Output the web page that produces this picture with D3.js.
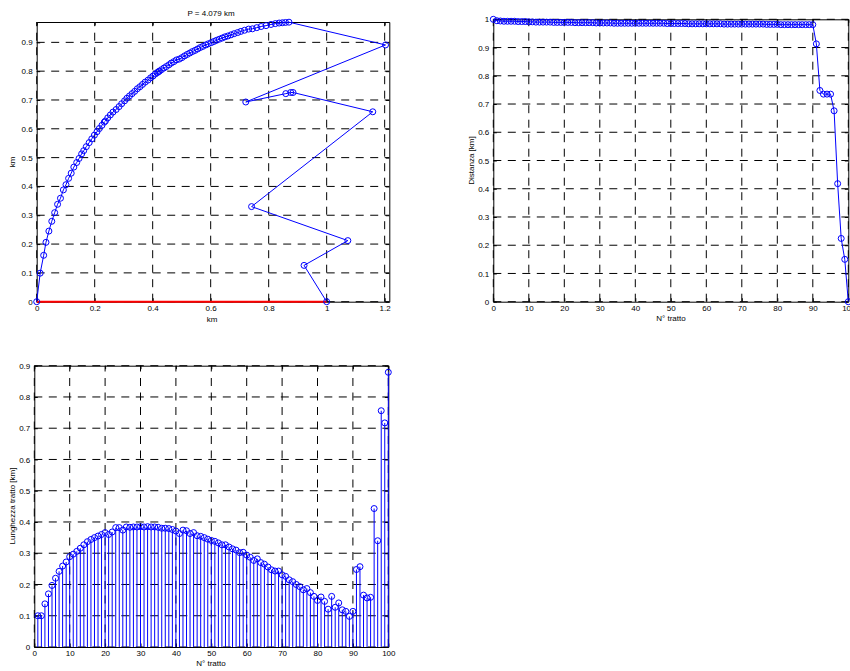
<!DOCTYPE html>
<html>
<head>
<meta charset="utf-8">
<script src="https://cdn.jsdelivr.net/npm/d3@7"></script>
<style>
  body { margin: 0; background: #fff; }
  svg { display: block; }
</style>
</head>
<body>
<svg id="chart" width="850" height="671"></svg>
<script>
// percorso (km), punti 0..100
const pathX = [
  0, 0.012, 0.024, 0.032, 0.042, 0.052, 0.062, 0.072, 0.082, 0.092,
  0.101, 0.110, 0.119, 0.128, 0.138, 0.146, 0.155, 0.162, 0.171, 0.181,
  0.190, 0.199, 0.208, 0.216, 0.225, 0.233, 0.237, 0.245, 0.254, 0.263,
  0.274, 0.284, 0.293, 0.303, 0.311, 0.320, 0.329, 0.338, 0.347, 0.356,
  0.365, 0.374, 0.384, 0.393, 0.401, 0.409, 0.416, 0.420, 0.423, 0.430,
  0.439, 0.447, 0.456, 0.464, 0.473, 0.482, 0.492, 0.501, 0.510, 0.519,
  0.528, 0.537, 0.546, 0.555, 0.564, 0.573, 0.583, 0.592, 0.602, 0.611,
  0.620, 0.630, 0.640, 0.649, 0.659, 0.670, 0.681, 0.693, 0.704, 0.717,
  0.731, 0.744, 0.759, 0.774, 0.791, 0.808, 0.823, 0.836, 0.847, 0.858,
  0.870, 1.203, 0.721, 0.859, 0.876, 0.884, 1.159, 0.741, 1.073, 0.922,
  1.000
];
const pathY = [
  0, 0.099, 0.161, 0.206, 0.245, 0.279, 0.309, 0.338, 0.359, 0.388,
  0.406, 0.428, 0.446, 0.467, 0.483, 0.497, 0.513, 0.524, 0.538, 0.552,
  0.565, 0.578, 0.590, 0.601, 0.612, 0.623, 0.627, 0.638, 0.648, 0.658,
  0.667, 0.677, 0.687, 0.697, 0.706, 0.714, 0.722, 0.730, 0.739, 0.746,
  0.754, 0.762, 0.769, 0.777, 0.783, 0.790, 0.795, 0.798, 0.800, 0.805,
  0.811, 0.816, 0.822, 0.828, 0.833, 0.839, 0.842, 0.847, 0.853, 0.858,
  0.863, 0.868, 0.872, 0.877, 0.882, 0.886, 0.891, 0.895, 0.899, 0.903,
  0.907, 0.911, 0.915, 0.919, 0.922, 0.926, 0.930, 0.934, 0.938, 0.942,
  0.946, 0.947, 0.951, 0.955, 0.958, 0.962, 0.965, 0.967, 0.968, 0.969,
  0.970, 0.891, 0.693, 0.722, 0.726, 0.726, 0.659, 0.330, 0.212, 0.126,
  0
];
// segmento rosso
const segX = [0, 1];
const segY = [0, 0];

// distanza dal punto (1,0), tratti 0..100
const distanza = [
  1.000,
  0.995, 0.994, 0.993, 0.993, 0.993, 0.993, 0.992, 0.992, 0.992,
  0.991, 0.991, 0.990, 0.990, 0.990, 0.990, 0.990, 0.989, 0.989, 0.989,
  0.989, 0.989, 0.989, 0.988, 0.988, 0.988, 0.988, 0.988, 0.988, 0.987,
  0.987, 0.987, 0.987, 0.987, 0.986, 0.986, 0.986, 0.986, 0.986, 0.986,
  0.986, 0.986, 0.986, 0.986, 0.986, 0.986, 0.986, 0.986, 0.986, 0.985,
  0.985, 0.985, 0.985, 0.985, 0.985, 0.984, 0.984, 0.984, 0.984, 0.984,
  0.984, 0.984, 0.984, 0.984, 0.984, 0.983, 0.983, 0.983, 0.983, 0.983,
  0.983, 0.983, 0.983, 0.983, 0.983, 0.983, 0.983, 0.982, 0.982, 0.982,
  0.982, 0.981, 0.981, 0.981, 0.981, 0.981, 0.981, 0.981, 0.981, 0.981, 0.981,
  0.913, 0.748, 0.735, 0.735, 0.735, 0.676, 0.418, 0.224, 0.150, 0.000
];

// lunghezza di ogni tratto, tratti 1..100
const lunghezza = [
  0.100, 0.100, 0.138, 0.170, 0.197, 0.220, 0.242, 0.259, 0.272, 0.289,
  0.297, 0.306, 0.316, 0.327, 0.337, 0.344, 0.350, 0.355, 0.360, 0.366,
  0.360, 0.368, 0.382, 0.382, 0.374, 0.384, 0.383, 0.384, 0.384, 0.385,
  0.384, 0.385, 0.384, 0.384, 0.383, 0.380, 0.380, 0.379, 0.376, 0.371,
  0.363, 0.374, 0.372, 0.363, 0.366, 0.356, 0.354, 0.350, 0.345, 0.341,
  0.338, 0.333, 0.327, 0.327, 0.320, 0.314, 0.310, 0.302, 0.303, 0.294,
  0.287, 0.277, 0.282, 0.270, 0.265, 0.256, 0.247, 0.243, 0.243, 0.231,
  0.226, 0.215, 0.209, 0.200, 0.193, 0.183, 0.187, 0.174, 0.162, 0.149,
  0.160, 0.146, 0.121, 0.162, 0.127, 0.141, 0.119, 0.114, 0.098, 0.114,
  0.248, 0.257, 0.166, 0.157, 0.159, 0.443, 0.340, 0.756, 0.717, 0.879
];

const kmTicksX = [0, 0.2, 0.4, 0.6, 0.8, 1, 1.2];
const kmTicksY = [0, 0.1, 0.2, 0.3, 0.4, 0.5, 0.6, 0.7, 0.8, 0.9];
const trattoTicks = [0, 10, 20, 30, 40, 50, 60, 70, 80, 90, 100];
const distTicks = [0, 0.1, 0.2, 0.3, 0.4, 0.5, 0.6, 0.7, 0.8, 0.9, 1];
const lungTicks = [0, 0.1, 0.2, 0.3, 0.4, 0.5, 0.6, 0.7, 0.8, 0.9];

const titolo = "P = 4.079 km";

document.addEventListener("DOMContentLoaded", function () {
    const svg = d3.select("#chart");
    const font = "'Liberation Sans', Arial, Helvetica, sans-serif";
    const blue = "#0000ff";
    const fmt = d => String(+d.toFixed(2));

    function makeAxes(box, xDomain, yDomain, xTicks, yTicks) {
        const x = d3.scaleLinear().domain(xDomain).range([box.left, box.right]);
        const y = d3.scaleLinear().domain(yDomain).range([box.bottom, box.top]);
        const g = svg.append("g");

        // griglia tratteggiata
        g.selectAll(".vgrid").data(xTicks).enter().append("line")
            .attr("x1", d => x(d)).attr("x2", d => x(d))
            .attr("y1", box.bottom).attr("y2", box.top)
            .attr("stroke", "#000")
            .attr("stroke-dasharray", "8,6.5");
        g.selectAll(".hgrid").data(yTicks).enter().append("line")
            .attr("x1", box.left).attr("x2", box.right)
            .attr("y1", d => y(d)).attr("y2", d => y(d))
            .attr("stroke", "#000")
            .attr("stroke-dasharray", "8,6.5");

        const tick = 3.5;
        const styleAxis = sel => sel
            .attr("font-size", 8)
            .attr("font-family", font)
            .attr("color", "#000");

        g.append("g").attr("transform", `translate(0,${box.bottom})`)
            .call(d3.axisBottom(x).tickValues(xTicks).tickFormat(fmt)
                .tickSizeInner(-tick).tickSizeOuter(0).tickPadding(3.8))
            .call(styleAxis);
        g.append("g").attr("transform", `translate(0,${box.top})`)
            .call(d3.axisTop(x).tickValues(xTicks).tickFormat("")
                .tickSizeInner(-tick).tickSizeOuter(0))
            .call(styleAxis);
        g.append("g").attr("transform", `translate(${box.left},0)`)
            .call(d3.axisLeft(y).tickValues(yTicks).tickFormat(fmt)
                .tickSizeInner(-tick).tickSizeOuter(0).tickPadding(4))
            .call(styleAxis);
        g.append("g").attr("transform", `translate(${box.right},0)`)
            .call(d3.axisRight(y).tickValues(yTicks).tickFormat("")
                .tickSizeInner(-tick).tickSizeOuter(0))
            .call(styleAxis);

        return { x, y, g };
    }

    function addLabel(text, px, py, rotate) {
        svg.append("text")
            .attr("transform", `translate(${px},${py})` + (rotate ? " rotate(-90)" : ""))
            .attr("text-anchor", "middle")
            .attr("font-size", 8)
            .attr("font-family", font)
            .attr("fill", "#000")
            .text(text);
    }

    // --- grafico 1: percorso ---
    const idx = pathX.map((d, i) => i);
    const a1 = makeAxes({ left: 36.7, right: 389.3, top: 22, bottom: 301.7 },
        [0, 1.216], [0, 0.9706], kmTicksX, kmTicksY);

    svg.append("line")
        .attr("x1", a1.x(segX[0])).attr("x2", a1.x(segX[1]))
        .attr("y1", a1.y(segY[0])).attr("y2", a1.y(segY[1]))
        .attr("stroke", "#ff0000")
        .attr("stroke-width", 2);

    svg.append("path")
        .datum(idx)
        .attr("fill", "none")
        .attr("stroke", blue)
        .attr("stroke-width", 1)
        .attr("d", d3.line().x(i => a1.x(pathX[i])).y(i => a1.y(pathY[i])));

    svg.append("g").selectAll("circle").data(idx).enter().append("circle")
        .attr("cx", i => a1.x(pathX[i]))
        .attr("cy", i => a1.y(pathY[i]))
        .attr("r", 3)
        .attr("fill", "none")
        .attr("stroke", blue)
        .attr("stroke-width", 1);

    addLabel(titolo, 211, 15.5, false);
    addLabel("km", 212, 322, false);
    addLabel("km", 15, 162, true);

    // --- grafico 2: distanza ---
    const a2 = makeAxes({ left: 493.3, right: 848.3, top: 19.3, bottom: 301.7 },
        [0, 100], [0, 1], trattoTicks, distTicks);

    svg.append("path")
        .datum(distanza)
        .attr("fill", "none")
        .attr("stroke", blue)
        .attr("stroke-width", 1)
        .attr("d", d3.line().x((d, i) => a2.x(i)).y(d => a2.y(d)));

    svg.append("g").selectAll("circle").data(distanza).enter().append("circle")
        .attr("cx", (d, i) => a2.x(i))
        .attr("cy", d => a2.y(d))
        .attr("r", 3)
        .attr("fill", "none")
        .attr("stroke", blue)
        .attr("stroke-width", 1);

    addLabel("Distanza [km]", 474, 160.5, true);
    addLabel("N° tratto", 671, 321, false);

    // --- grafico 3: lunghezza tratti (stem) ---
    const a3 = makeAxes({ left: 34.3, right: 388.3, top: 365.7, bottom: 647 },
        [0, 100], [0, 0.9], trattoTicks, lungTicks);

    const stems = svg.append("g");
    stems.selectAll("line").data(lunghezza).enter().append("line")
        .attr("x1", (d, i) => a3.x(i + 1)).attr("x2", (d, i) => a3.x(i + 1))
        .attr("y1", a3.y(0)).attr("y2", d => a3.y(d))
        .attr("stroke", blue)
        .attr("stroke-width", 1);
    stems.selectAll("circle").data(lunghezza).enter().append("circle")
        .attr("cx", (d, i) => a3.x(i + 1))
        .attr("cy", d => a3.y(d))
        .attr("r", 3)
        .attr("fill", "none")
        .attr("stroke", blue)
        .attr("stroke-width", 1);

    addLabel("Lunghezza tratto [km]", 15, 506, true);
    addLabel("N° tratto", 211, 666, false);
});
</script>
</body>
</html>
